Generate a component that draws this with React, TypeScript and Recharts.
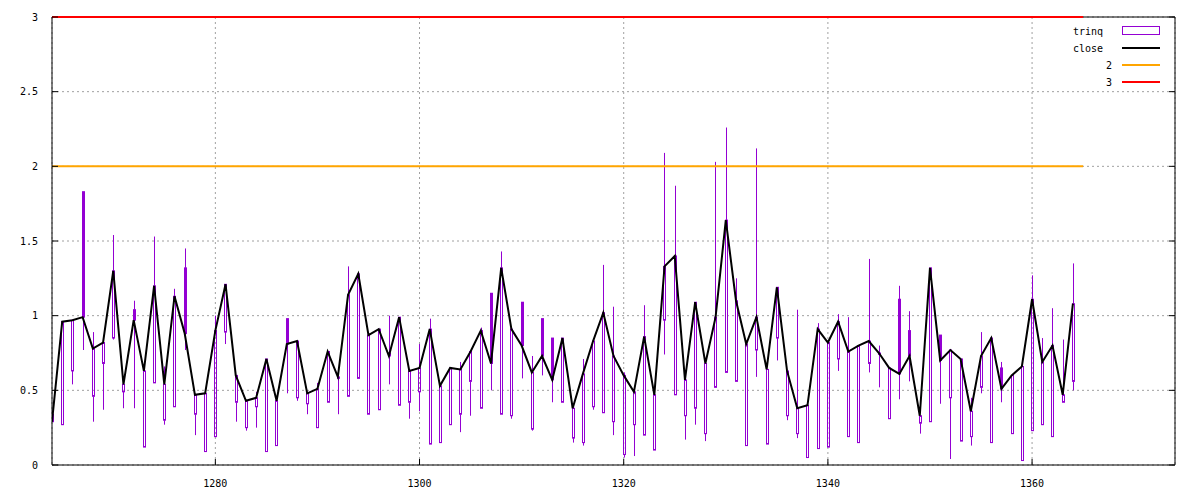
import {
  ComposedChart,
  Bar,
  Line,
  XAxis,
  YAxis,
  CartesianGrid,
  ReferenceLine,
} from "recharts";

// trading days and OHLC values
const days = [
  1264, 1265, 1266, 1267, 1268, 1269, 1270, 1271, 1272, 1273, 1274, 1275, 1276, 1277, 1278, 1279,
  1280, 1281, 1282, 1283, 1284, 1285, 1286, 1287, 1288, 1289, 1290, 1291, 1292, 1293, 1294, 1295,
  1296, 1297, 1298, 1299, 1300, 1301, 1302, 1303, 1304, 1305, 1306, 1307, 1308, 1309, 1310, 1311,
  1312, 1313, 1314, 1315, 1316, 1317, 1318, 1319, 1320, 1321, 1322, 1323, 1324, 1325, 1326, 1327,
  1328, 1329, 1330, 1331, 1332, 1333, 1334, 1335, 1336, 1337, 1338, 1339, 1340, 1341, 1342, 1343,
  1344, 1345, 1346, 1347, 1348, 1349, 1350, 1351, 1352, 1353, 1354, 1355, 1356, 1357, 1358, 1359,
  1360, 1361, 1362, 1363, 1364,
];
const open = [
  0.34, 0.27, 0.63, 1.83, 0.46, 0.68, 0.85, 0.49, 1.04, 0.12, 0.55, 0.3, 0.39, 1.32, 0.34, 0.09,
  0.19, 0.89, 0.42, 0.25, 0.39, 0.09, 0.13, 0.98, 0.45, 0.41, 0.25, 0.42, 0.58, 0.46, 0.58, 0.34,
  0.37, 0.75, 0.4, 0.42, 0.49, 0.14, 0.15, 0.27, 0.34, 0.56, 0.38, 1.15, 0.34, 0.33, 1.09, 0.24,
  0.98, 0.85, 0.42, 0.18, 0.15, 0.39, 0.35, 0.29, 0.07, 0.27, 0.2, 0.1, 0.97, 0.47, 0.33, 0.38,
  0.21, 0.52, 0.62, 0.56, 0.13, 0.77, 0.14, 0.85, 0.33, 0.21, 0.05, 0.11, 0.12, 0.71, 0.19, 0.15,
  0.68, 0.74, 0.31, 1.11, 0.9, 0.28, 0.29, 0.87, 0.45, 0.16, 0.19, 0.52, 0.15, 0.65, 0.21, 0.03,
  0.23, 0.27, 0.19, 0.42, 0.56,
];
const high = [
  0.34, 0.96, 0.97, 1.83, 0.89, 0.82, 1.54, 0.54, 1.1, 0.63, 1.53, 0.66, 1.18, 1.45, 0.47, 0.48,
  1.0, 1.21, 0.6, 0.43, 0.49, 0.71, 0.43, 0.98, 0.83, 0.48, 0.55, 0.76, 0.59, 1.33, 1.28, 0.87,
  0.91, 1.0, 0.99, 0.63, 0.81, 0.98, 0.53, 0.65, 0.69, 0.76, 0.92, 1.15, 1.43, 0.91, 1.09, 0.73,
  0.98, 0.85, 0.85, 0.38, 0.71, 0.83, 1.34, 1.06, 0.62, 0.49, 1.07, 0.47, 2.09, 1.87, 0.57, 1.09,
  0.68, 2.03, 2.26, 1.25, 0.81, 2.12, 0.64, 1.19, 0.63, 1.04, 0.4, 0.95, 0.82, 1.01, 0.99, 0.8,
  1.38, 0.8, 0.65, 1.2, 1.03, 0.33, 1.32, 0.87, 0.77, 0.71, 0.45, 0.89, 0.85, 0.69, 0.6, 0.66,
  1.27, 0.85, 1.05, 0.84, 1.35,
];
const low = [
  0.29, 0.27, 0.54, 0.77, 0.29, 0.37, 0.84, 0.38, 0.38, 0.12, 0.55, 0.27, 0.39, 0.77, 0.2, 0.09,
  0.19, 0.81, 0.29, 0.23, 0.25, 0.09, 0.13, 0.48, 0.43, 0.34, 0.25, 0.42, 0.34, 0.46, 0.58, 0.34,
  0.37, 0.54, 0.4, 0.31, 0.36, 0.14, 0.15, 0.27, 0.22, 0.33, 0.38, 0.5, 0.34, 0.31, 0.58, 0.23,
  0.6, 0.42, 0.42, 0.15, 0.13, 0.37, 0.35, 0.2, 0.05, 0.06, 0.2, 0.1, 0.74, 0.47, 0.17, 0.27,
  0.16, 0.52, 0.62, 0.56, 0.13, 0.59, 0.14, 0.7, 0.3, 0.18, 0.05, 0.11, 0.12, 0.63, 0.19, 0.15,
  0.62, 0.52, 0.31, 0.44, 0.56, 0.21, 0.29, 0.41, 0.04, 0.16, 0.13, 0.48, 0.15, 0.42, 0.21, 0.03,
  0.23, 0.27, 0.19, 0.42, 0.5,
];
const close = [
  0.29, 0.96, 0.97, 0.99, 0.78, 0.82, 1.3, 0.54, 0.97, 0.63, 1.2, 0.54, 1.13, 0.88, 0.47, 0.48,
  0.9, 1.21, 0.6, 0.43, 0.45, 0.71, 0.43, 0.81, 0.83, 0.48, 0.51, 0.76, 0.59, 1.14, 1.28, 0.87,
  0.91, 0.73, 0.99, 0.63, 0.65, 0.91, 0.53, 0.65, 0.64, 0.76, 0.9, 0.68, 1.32, 0.91, 0.8, 0.62,
  0.73, 0.57, 0.85, 0.38, 0.61, 0.83, 1.02, 0.73, 0.6, 0.49, 0.86, 0.47, 1.33, 1.4, 0.57, 1.09,
  0.68, 0.99, 1.64, 1.1, 0.81, 0.99, 0.64, 1.19, 0.63, 0.38, 0.4, 0.91, 0.82, 0.96, 0.76, 0.8,
  0.83, 0.75, 0.65, 0.61, 0.73, 0.33, 1.32, 0.7, 0.77, 0.71, 0.36, 0.73, 0.85, 0.51, 0.6, 0.66,
  1.11, 0.69, 0.8, 0.47, 1.08,
];

const xTicks = [1280, 1300, 1320, 1340, 1360];
const yTicks = [0, 0.5, 1, 1.5, 2, 2.5, 3];
const xDomain = [1264, 1374];
const levelTwo = 2;
const levelThree = 3;
const levelEnd = 1365;

const PURPLE = "#9400d3";
const FONT = "'DejaVu Sans Mono', monospace";

const rows = days.map((day, i) => ({
  day,
  open: open[i],
  high: high[i],
  low: low[i],
  close: close[i],
}));

// candlestick drawn from the [low, high] range bar the library positions
function Candle(props: any) {
  const { x, y, width, height, payload } = props;
  if (payload == null || !height) return null;
  const { open: o, high: h, low: l, close: c } = payload;
  const k = height / (h - l);
  const py = (v: number) => y + (h - v) * k;
  const cx = Math.round(x + width / 2) + 0.5;
  const top = py(Math.max(o, c));
  const bot = py(Math.min(o, c));
  const falling = c < o;
  return (
    <g>
      <line x1={cx} x2={cx} y1={py(h)} y2={top} stroke={PURPLE} strokeWidth={1} />
      <line x1={cx} x2={cx} y1={bot} y2={py(l)} stroke={PURPLE} strokeWidth={1} />
      <rect
        x={cx - 1}
        y={top}
        width={2}
        height={Math.max(bot - top, 1)}
        fill={falling ? PURPLE : "none"}
        stroke={PURPLE}
        strokeWidth={1}
      />
    </g>
  );
}

function Key() {
  const items = [
    { label: "trinq", tx: 1073, y: 31 },
    { label: "close", tx: 1073, y: 48, color: "#000000" },
    { label: "2", tx: 1106, y: 65, color: "#ffa500" },
    { label: "3", tx: 1106, y: 82, color: "#ff0000" },
  ];
  return (
    <svg
      width={1200}
      height={500}
      style={{ position: "absolute", left: 0, top: 0, pointerEvents: "none" }}
    >
      {items.map((it) => (
        <g key={it.label}>
          <text x={it.tx} y={it.y} dy="0.35em" fontSize={10} fontFamily={FONT} fill="#000">
            {it.label}
          </text>
          {it.color ? (
            <line x1={1122} x2={1160} y1={it.y} y2={it.y} stroke={it.color} strokeWidth={2} />
          ) : (
            <rect x={1122.5} y={it.y - 4.5} width={37} height={8} fill="none" stroke={PURPLE} />
          )}
        </g>
      ))}
    </svg>
  );
}

export default function App() {
  const tickStyle = { fill: "#000", fontSize: 10, fontFamily: FONT };
  return (
    <div style={{ position: "absolute", left: 0, top: 0, width: 1200, height: 500, background: "#fff" }}>
      <ComposedChart
        width={1200}
        height={500}
        data={rows}
        margin={{ top: 10, right: 15, bottom: 5, left: 12 }}
      >
        <CartesianGrid stroke="#a0a0a0" strokeDasharray="2 3" />
        <XAxis
          dataKey="day"
          type="number"
          domain={xDomain}
          ticks={xTicks}
          allowDataOverflow
          height={30}
          tick={tickStyle}
          tickSize={-6}
          tickMargin={21}
          stroke="#000"
          interval={0}
        />
        <XAxis
          xAxisId="top"
          orientation="top"
          type="number"
          domain={xDomain}
          ticks={xTicks}
          allowDataOverflow
          height={7}
          tickSize={-6}
          tickFormatter={() => ""}
          axisLine={false}
          stroke="#000"
          interval={0}
        />
        <YAxis
          type="number"
          domain={[0, 3]}
          ticks={yTicks}
          allowDataOverflow
          width={40}
          tick={tickStyle}
          tickSize={-6}
          tickMargin={20}
          stroke="#000"
          interval={0}
        />
        <YAxis
          yAxisId="right"
          orientation="right"
          type="number"
          domain={[0, 3]}
          ticks={yTicks}
          allowDataOverflow
          width={10}
          tickSize={-6}
          tickFormatter={() => ""}
          stroke="#000"
          interval={0}
        />
        <Bar
          dataKey={(d: any) => [d.low, d.high]}
          barSize={4}
          shape={<Candle />}
          isAnimationActive={false}
        />
        <Line
          dataKey="close"
          type="linear"
          stroke="#000000"
          strokeWidth={2}
          dot={false}
          activeDot={false}
          isAnimationActive={false}
        />
        {/* top border, drawn under the level-3 line */}
        <ReferenceLine y={levelThree} stroke="#000000" strokeWidth={1} />
        <ReferenceLine
          segment={[
            { x: days[0], y: levelTwo },
            { x: levelEnd, y: levelTwo },
          ]}
          stroke="#ffa500"
          strokeWidth={2}
        />
        <ReferenceLine
          segment={[
            { x: days[0], y: levelThree },
            { x: levelEnd, y: levelThree },
          ]}
          stroke="#ff0000"
          strokeWidth={2}
        />
      </ComposedChart>
      <Key />
    </div>
  );
}
